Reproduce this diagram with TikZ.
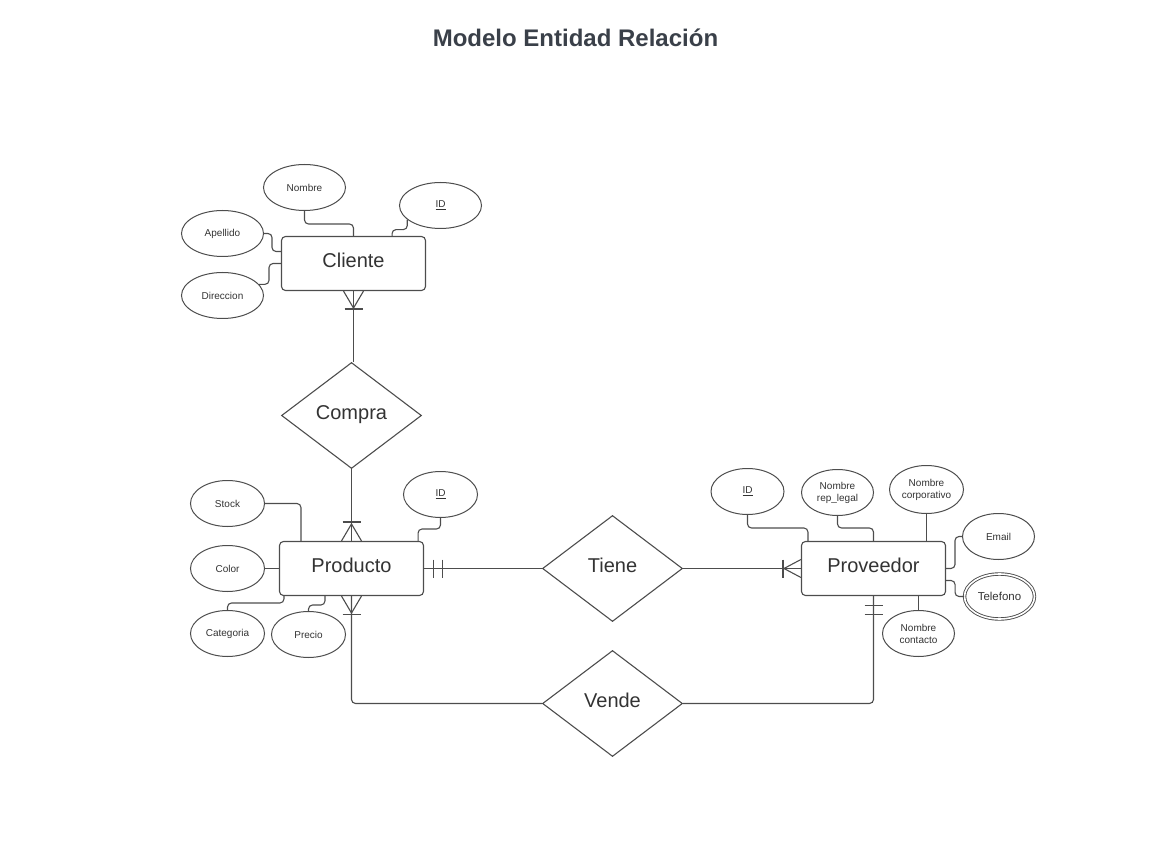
\documentclass[tikz,border=0pt]{standalone}
\usepackage{fontspec}
\setmainfont{Liberation Sans}
\usetikzlibrary{shapes.geometric}
\definecolor{linec}{HTML}{4D4D4D}
\definecolor{textc}{HTML}{333333}
\definecolor{titlec}{HTML}{3A4049}
\begin{document}
\begin{tikzpicture}[x=1pt,y=-1pt,
 entity/.style={draw=linec, line width=1.1pt, rounded corners=4pt, minimum width=144pt, minimum height=54pt, inner sep=0pt, text=textc, font=\fontsize{20}{24}\selectfont, text height=15pt, text depth=7pt},
 attr/.style={ellipse, draw=linec, line width=1pt, inner sep=0pt, text=textc, font=\fontsize{10}{12}\selectfont, align=center, minimum width=74pt, minimum height=46pt},
 bigattr/.style={attr, minimum width=82pt},
 rel/.style={diamond, draw=linec, line width=1.1pt, minimum width=140pt, minimum height=106pt, inner sep=0pt, text=textc, font=\fontsize{20}{24}\selectfont, text height=15pt, text depth=7pt},
 conn/.style={draw=linec, line width=1.1pt, rounded corners=4pt},
 link/.style={draw=linec, line width=1.1pt}
]
\useasboundingbox (0,0) rectangle (1160,850);
\node[font=\bfseries\fontsize{24}{28}\selectfont, text=titlec] (title) at (575.5,38) {Modelo Entidad Relación};

% Cliente
\node[entity] (cliente) at (353.5,263.5) {Cliente};
\node[bigattr] (cnombre) at (304.5,187.5) {Nombre};
\node[bigattr] (cid) at (440.5,205.5) {\underline{ID}};
\node[bigattr] (capellido) at (222.5,233.5) {Apellido};
\node[bigattr] (cdireccion) at (222.5,295.5) {Direccion};

% Compra
\node[rel] (compra) at (351.5,415.5) {Compra};

% Producto
\node[entity] (producto) at (351.5,568.5) {Producto};
\node[attr] (pstock) at (227.5,503.5) {Stock};
\node[attr] (pcolor) at (227.5,568.5) {Color};
\node[attr] (pcategoria) at (227.5,633.5) {Categoria};
\node[attr] (pprecio) at (308.5,634.5) {Precio};
\node[attr] (pid) at (440.5,494.5) {\underline{ID}};

% Tiene
\node[rel] (tiene) at (612.5,568.5) {Tiene};

% Proveedor
\node[entity] (proveedor) at (873.5,568.5) {Proveedor};
\node[attr, minimum width=73pt] (vid) at (747.5,491.5) {\underline{ID}};
\node[attr, minimum width=72pt] (vrep) at (837.5,492.5) {Nombre\\rep\_legal};
\node[attr, minimum height=48pt] (vcorp) at (926.5,489.5) {Nombre\\corporativo};
\node[attr, minimum width=72pt] (vemail) at (998.5,536.5) {Email};
\node[attr, minimum width=70pt, minimum height=45pt, double=white, double distance=1.6pt, line width=0.9pt, font=\fontsize{11.5}{13}\selectfont] (vtel) at (999.5,596.5) {Telefono};
\node[attr, minimum width=72pt] (vcont) at (918.5,633.5) {Nombre\\contacto};

% Vende
\node[rel] (vende) at (612.5,703.5) {Vende};

% Cliente attribute connectors
\draw[conn] (cnombre.south) -- ++(0,13) -| (cliente.north);
\draw[conn] (cid.203) -- ++(0,10) -| ([xshift=-34pt]cliente.north east);
\draw[conn] (capellido.east) -- ++(8,0) |- ([yshift=12pt]cliente.west);
\draw[conn] (cdireccion.17) -- ++(10,0) |- (cliente.west);

% Producto attribute connectors
\draw[conn] (pstock.east) -| ([xshift=22pt]producto.north west);
\draw[link] (pcolor.east) -- (producto.west);
\draw[conn] (pcategoria.north) -- ++(0,-7) -| ([xshift=5pt]producto.south west);
\draw[conn] (pprecio.north) -- ++(0,-6) -| ([xshift=46pt]producto.south west);
\draw[conn] (pid.south) -- ++(0,11) -| ([xshift=-6pt]producto.north east);

% Proveedor attribute connectors
\draw[conn] (vid.south) -- ++(0,13) -| ([xshift=7pt]proveedor.north west);
\draw[conn] (vrep.south) -- ++(0,12) -| (proveedor.north);
\draw[link] (vcorp.south) -- (vcorp.south |- proveedor.north);
\draw[conn] (vemail.west) -- ++(-7,0) |- (proveedor.east);
\draw[conn] ([yshift=-12pt]proveedor.east) -- ++(9,0) |- (vtel.west);
\draw[link] (vcont.north) -- (vcont.north |- proveedor.south);

% Cliente -- Compra
\draw[link] (cliente.south) -- (cliente.south |- compra.north);
\draw[link] ([xshift=-10pt]cliente.south) -- ++(10,17) -- ++(10,-17);
\draw[link] ([xshift=-9pt,yshift=-18pt]cliente.south) -- ++(18,0);

% Compra -- Producto
\draw[link] (compra.south) -- (compra.south |- producto.north);
\draw[link] ([xshift=-10pt]producto.north) -- ++(10,-17) -- ++(10,17);
\draw[link] ([xshift=-9pt,yshift=19pt]producto.north) -- ++(18,0);

% Producto -- Tiene -- Proveedor
\draw[link] (producto.east) -- (tiene.west);
\draw[link] ([xshift=9pt,yshift=9pt]producto.east) -- ++(0,18);
\draw[link] ([xshift=18pt,yshift=9pt]producto.east) -- ++(0,18);
\draw[link] (tiene.east) -- (proveedor.west);
\draw[link] ([yshift=9pt]proveedor.west) -- ++(-17,9) -- ++(17,9);
\draw[link] ([xshift=-18pt,yshift=9pt]proveedor.west) -- ++(0,18);

% Producto -- Vende -- Proveedor
\draw[conn] (producto.south) |- (vende.west);
\draw[link] ([xshift=-10pt]producto.south) -- ++(10,17) -- ++(10,-17);
\draw[link] ([xshift=-9pt,yshift=-18pt]producto.south) -- ++(18,0);
\draw[conn] (vende.east) -| (proveedor.south);
\draw[link] ([xshift=-9pt,yshift=-9pt]proveedor.south) -- ++(18,0);
\draw[link] ([xshift=-9pt,yshift=-18pt]proveedor.south) -- ++(18,0);
\end{tikzpicture}
\end{document}
